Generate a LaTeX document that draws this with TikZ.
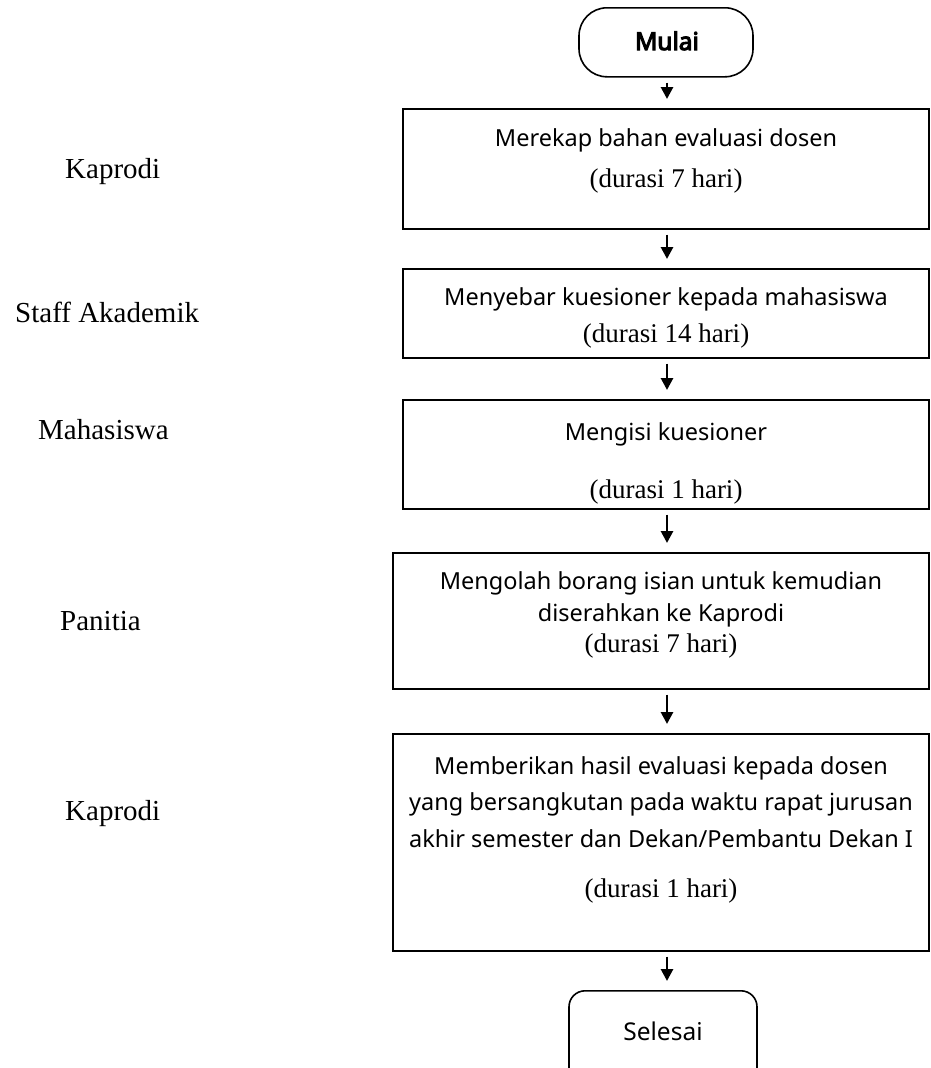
\documentclass[tikz,border=0pt]{standalone}
\usepackage{fontspec}
\setmainfont{Liberation Serif}
\newfontfamily\boxfont{Noto Sans}
\newfontfamily\boxfontbold[FakeBold=4.5]{Noto Sans}
\usetikzlibrary{positioning, calc}
\usetikzlibrary{arrows.meta}
\tikzstyle{stepbox}=[rectangle,draw=black,line width=1.6pt,inner sep=0pt,anchor=north]
\tikzstyle{endbox}=[rectangle,draw=black,line width=1.6pt,inner sep=0pt,anchor=north]
\tikzstyle{flowarrow} = [-{Triangle[length=12pt,width=12pt]},line width=2.8pt,
shorten <=5pt,shorten >=9pt]
\tikzstyle{sanstext}=[font=\boxfont\fontsize{23.5}{27}\selectfont,anchor=base,inner sep=0pt]
\tikzstyle{seriftext}=[font=\fontsize{27}{30}\selectfont,anchor=base,inner sep=0pt]
\tikzstyle{rolelabel}=[font=\fontsize{29}{32}\selectfont,anchor=base west,inner sep=0pt]

\begin{document}
\begin{tikzpicture}[x=1pt,y=-1pt]
        \useasboundingbox (0,0) rectangle (930,1068);
        \coordinate (axis) at (667,0);

        % terminals
        \node[endbox, rounded corners=28pt, minimum width=174pt, minimum height=69pt] (mulai) at (666,7) {};
        \node[endbox, rounded corners=16pt, minimum width=188pt, minimum height=95pt] (selesai) at (663,990) {};

        % steps
        \node[stepbox, minimum width=526pt, minimum height=120pt] (b1) at (666,108) {};
        \node[stepbox, minimum width=526pt, minimum height=89pt] (b2) at (666,268) {};
        \node[stepbox, minimum width=526pt, minimum height=109pt] (b3) at (666,399) {};
        \node[stepbox, minimum width=536pt, minimum height=136pt] (b4) at (661,552) {};
        \node[stepbox, minimum width=536pt, minimum height=217pt] (b5) at (661,733) {};

        % texts
        \node[sanstext, font=\boxfontbold\fontsize{24.5}{27}\selectfont] (tmulai) at (667,50) {Mulai};
        \node[sanstext] (t1a) at (666,146) {Merekap bahan evaluasi dosen};
        \node[seriftext] (t1b) at (666,187) {(durasi 7 hari)};
        \node[sanstext] (t2a) at (666,305) {Menyebar kuesioner kepada mahasiswa};
        \node[seriftext] (t2b) at (666,342) {(durasi 14 hari)};
        \node[sanstext] (t3a) at (666,440) {Mengisi kuesioner};
        \node[seriftext] (t3b) at (666,498) {(durasi 1 hari)};
        \node[sanstext] (t4a) at (661,589) {Mengolah borang isian untuk kemudian};
        \node[sanstext] (t4b) at (661,621) {diserahkan ke Kaprodi};
        \node[seriftext] (t4c) at (661,652) {(durasi 7 hari)};
        \node[sanstext] (t5a) at (661,774) {Memberikan hasil evaluasi kepada dosen};
        \node[sanstext] (t5b) at (661,810) {yang bersangkutan pada waktu rapat jurusan};
        \node[sanstext] (t5c) at (661,847) {akhir semester dan Dekan/Pembantu Dekan I};
        \node[seriftext] (t5d) at (661,897) {(durasi 1 hari)};
        \node[sanstext, font=\boxfont\fontsize{24.5}{27}\selectfont] (tselesai) at (663,1040) {Selesai};

        % roles
        \node[rolelabel] (r1) at (65,178) {Kaprodi};
        \node[rolelabel] (r2) at (15,322) {Staff Akademik};
        \node[rolelabel] (r3) at (38,439) {Mahasiswa};
        \node[rolelabel] (r4) at (60,630) {Panitia};
        \node[rolelabel] (r5) at (65,820) {Kaprodi};

        \draw[flowarrow] (mulai.south -| axis) -- (b1.north -| axis);
        \draw[flowarrow] (b1.south -| axis) -- (b2.north -| axis);
        \draw[flowarrow] (b2.south -| axis) -- (b3.north -| axis);
        \draw[flowarrow] (b3.south -| axis) -- (b4.north -| axis);
        \draw[flowarrow] (b4.south -| axis) -- (b5.north -| axis);
        \draw[flowarrow] (b5.south -| axis) -- (selesai.north -| axis);
    \end{tikzpicture}
\end{document}
